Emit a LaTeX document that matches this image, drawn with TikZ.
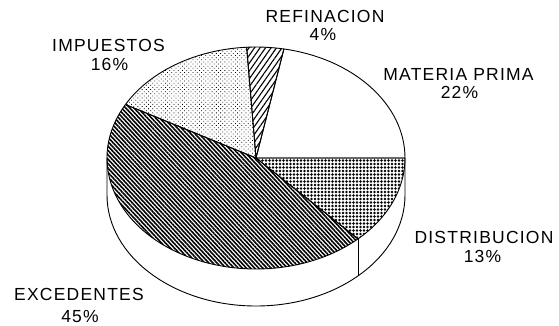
\documentclass[tikz,border=0pt]{standalone}
\usepackage{fontspec}
\setmainfont{Liberation Sans}[LetterSpace=7]
\usetikzlibrary{patterns.meta}
\begin{document}
\begin{tikzpicture}[x=1pt,y=1pt,
  lbl/.style={font=\fontsize{17.5}{17.5}\selectfont, inner sep=0pt, anchor=base},
  edge/.style={draw=black, line width=0.9pt, line join=round},
  pmateria/.style={fill=white},
  prefin/.style={pattern={Lines[angle=55,distance=4.5pt,line width=1.1pt]}},
  pimpuestos/.style={pattern={Dots[radius=0.55pt,distance=3pt,angle=45]}},
  pexced/.style={pattern={Lines[angle=-47,distance=3pt,line width=1.6pt]}},
  pdistr/.style={pattern={Dots[radius=1.35pt,distance=3.5pt]}}]
\useasboundingbox (0,0) rectangle (559,325);
\coordinate (C) at (256,167);
% side band
\filldraw[fill=white, edge] (C) ++(180:149 and 111) coordinate (L) -- ++(0,-37)
  arc[start angle=180,end angle=360,x radius=149,y radius=111] -- ++(0,37);
\draw[edge] (C) ++(313.2:149 and 111) coordinate (ED) -- ++(0,-37) coordinate (EDb);
% top face slices
\draw[edge, pmateria] (C) -- ++(0:149 and 111)
  arc[start angle=0,end angle=79.2,x radius=149,y radius=111] -- cycle;
\draw[edge, prefin] (C) -- ++(79.2:149 and 111)
  arc[start angle=79.2,end angle=93.6,x radius=149,y radius=111] -- cycle;
\draw[edge, pimpuestos] (C) -- ++(93.6:149 and 111)
  arc[start angle=93.6,end angle=151.2,x radius=149,y radius=111] -- cycle;
\draw[edge, pexced] (C) -- ++(151.2:149 and 111)
  arc[start angle=151.2,end angle=313.2,x radius=149,y radius=111] -- cycle;
\draw[edge, pdistr] (C) -- ++(313.2:149 and 111)
  arc[start angle=313.2,end angle=360,x radius=149,y radius=111] -- cycle;
% labels
\node[lbl] (imp) at (108.5,274) {IMPUESTOS};
\node[lbl] (impp) at (109.5,255) {16\%};
\node[lbl] (ref) at (325,302.5) {REFINACION};
\node[lbl] (refp) at (323,285) {4\%};
\node[lbl] (mat) at (458.5,245) {MATERIA PRIMA};
\node[lbl] (matp) at (459.5,227) {22\%};
\node[lbl] (dis) at (484,82) {DISTRIBUCION};
\node[lbl] (disp) at (482.5,63) {13\%};
\node[lbl] (exc) at (79,25) {EXCEDENTES};
\node[lbl] (excp) at (80,3) {45\%};
\end{tikzpicture}
\end{document}
